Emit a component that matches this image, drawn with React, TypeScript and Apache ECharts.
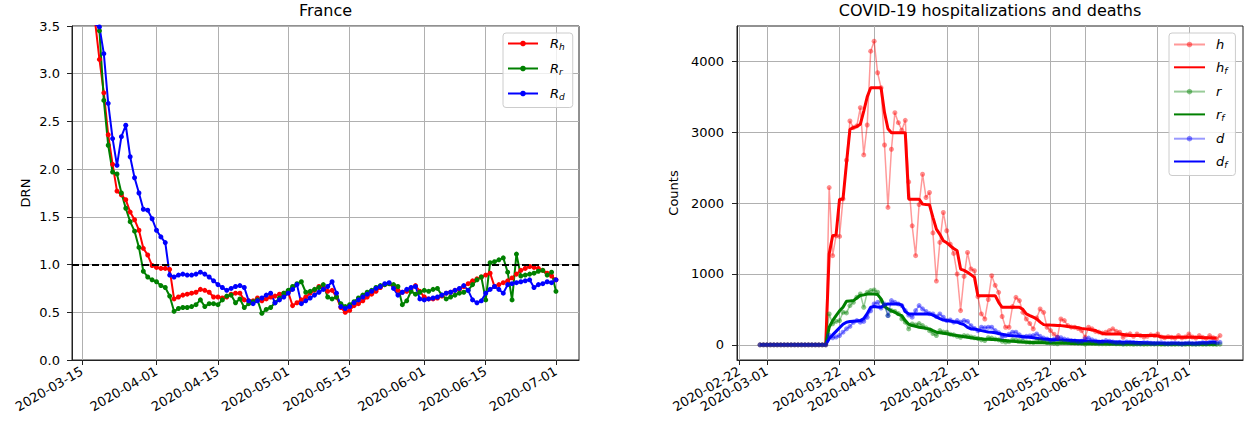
import React, { useEffect, useRef } from "react";
import * as echarts from "echarts";

// ---------- DATA ----------
// Left panel (France DRN), one value per day starting 2020-03-18
const drnStart = "2020-03-18";
const drnThreshold = 1;
const Rh = [
  3.55, 3.15, 2.8, 2.36, 2.05, 1.77, 1.73, 1.68, 1.55, 1.47,
  1.36, 1.17, 1.1, 0.99, 0.97, 0.96, 0.96, 0.95, 0.64, 0.66,
  0.68, 0.69, 0.7, 0.71, 0.74, 0.73, 0.71, 0.66, 0.66, 0.65,
  0.66, 0.69, 0.7, 0.7, 0.63, 0.62, 0.62, 0.65, 0.62, 0.64,
  0.66, 0.67, 0.69, 0.7, 0.71, 0.57, 0.6, 0.63, 0.66, 0.7,
  0.73, 0.77, 0.76, 0.72, 0.73, 0.66, 0.55, 0.5, 0.52, 0.57,
  0.59, 0.62, 0.66, 0.69, 0.72, 0.76, 0.79, 0.8, 0.78, 0.73,
  0.71, 0.72, 0.75, 0.78, 0.72, 0.66, 0.64, 0.64, 0.65, 0.67,
  0.7, 0.71, 0.73, 0.74, 0.77, 0.8, 0.83, 0.85, 0.87, 0.89,
  0.91, 0.77, 0.79, 0.81, 0.83, 0.86, 0.9, 0.94, 0.96, 0.98,
  0.97, 0.96, 0.94, 0.91, 0.88, 0.84,
];
const Rr = [
  3.6, 3.45, 2.72, 2.25, 1.97, 1.95, 1.75, 1.59, 1.45, 1.35,
  1.18, 0.93, 0.87, 0.84, 0.82, 0.78, 0.76, 0.67, 0.51, 0.54,
  0.55, 0.55, 0.56, 0.58, 0.63, 0.56, 0.59, 0.59, 0.58, 0.63,
  0.67, 0.68, 0.6, 0.64, 0.55, 0.59, 0.61, 0.63, 0.49, 0.53,
  0.55, 0.6, 0.65, 0.7, 0.73, 0.77, 0.8, 0.82, 0.71, 0.72,
  0.74, 0.76, 0.79, 0.66, 0.64, 0.66, 0.59, 0.56, 0.58, 0.61,
  0.65, 0.68, 0.71, 0.73, 0.76, 0.78, 0.79, 0.8, 0.79, 0.77,
  0.58, 0.62, 0.72, 0.69, 0.71, 0.73, 0.72, 0.74, 0.75, 0.68,
  0.64, 0.66, 0.68, 0.7, 0.71, 0.73, 0.79, 0.84, 0.87, 0.63,
  1.02, 1.03, 1.05, 1.07, 0.92, 0.63, 1.11, 0.88, 0.89, 0.9,
  0.91, 0.93, 0.94, 0.89, 0.92, 0.72,
];
const Rd = [
  3.52, 3.49, 3.21, 2.69, 2.32, 2.04, 2.34, 2.46, 2.13, 1.91,
  1.75, 1.58, 1.57, 1.48, 1.36, 1.29, 1.23, 0.89, 0.87, 0.89,
  0.9, 0.89, 0.89, 0.9, 0.92, 0.9, 0.87, 0.83, 0.79, 0.76,
  0.73, 0.75, 0.77, 0.78, 0.76, 0.62, 0.59, 0.62, 0.65, 0.68,
  0.7, 0.6, 0.63, 0.66, 0.7, 0.74, 0.79, 0.59, 0.62, 0.65,
  0.68, 0.71, 0.74, 0.77, 0.82, 0.7, 0.56, 0.54, 0.56, 0.6,
  0.63, 0.66, 0.69, 0.72, 0.75, 0.77, 0.8, 0.81, 0.75, 0.68,
  0.71, 0.74, 0.76, 0.77, 0.64, 0.63, 0.64, 0.65, 0.66, 0.68,
  0.7, 0.71, 0.73, 0.75, 0.78, 0.73, 0.63, 0.6, 0.62, 0.7,
  0.74, 0.77, 0.74, 0.7, 0.79, 0.8, 0.81, 0.82, 0.83, 0.84,
  0.76, 0.79, 0.8, 0.82, 0.81, 0.84,
];
const drnTicks = ["2020-03-15", "2020-04-01", "2020-04-15", "2020-05-01", "2020-05-15", "2020-06-01", "2020-06-15", "2020-07-01"];

// Right panel (counts), one value per day starting 2020-02-28
const countStart = "2020-02-28";
const beforeReporting = [0, 0, 0, 0, 0, 0, 0, 0, 0, 0, 0, 0, 0, 0, 0, 0, 0, 0, 0, 0];
const h = [
  ...beforeReporting,
  2220, 1258, 1540, 1530, 2060, 2606, 3159, 3065, 3090, 3347,
  2680, 3103, 4145, 4286, 3840, 3630, 2821, 1939, 2760, 3277,
  3136, 3030, 3169, 2300, 1680, 1258, 1980, 2408, 2080, 2150,
  1580, 900, 1445, 1868, 1610, 1420, 1290, 1000, 483, 965,
  1304, 1070, 1046, 680, 436, 365, 640, 976, 840, 741,
  400, 248, 248, 540, 670, 624, 459, 365, 300, 225,
  380, 506, 459, 248, 200, 150, 107, 365, 342, 271,
  250, 248, 230, 200, 107, 248, 225, 190, 180, 165,
  178, 200, 225, 190, 178, 107, 140, 155, 120, 154,
  130, 110, 120, 140, 130, 154, 110, 100, 115, 105,
  95, 130, 100, 110, 154, 110, 95, 130, 105, 90,
  130, 100, 84, 130,
];
const hf = [
  ...beforeReporting,
  1282, 1540, 1554, 2056, 2056, 2560, 3042, 3065, 3080, 3112,
  3300, 3500, 3629, 3629, 3629, 3629, 3277, 3050, 2995, 2995,
  2995, 2995, 2995, 2056, 2056, 2056, 2056, 1986, 1980, 1976,
  1800, 1634, 1560, 1469, 1440, 1399, 1360, 1328, 1070, 1050,
  1023, 990, 952, 694, 694, 694, 694, 694, 694, 600,
  530, 530, 530, 530, 530, 530, 500, 436, 412, 390,
  365, 320, 285, 280, 278, 275, 272, 271, 265, 258,
  252, 248, 240, 232, 225, 218, 210, 201, 180, 160,
  154, 154, 154, 154, 154, 146, 138, 130, 130, 130,
  130, 130, 130, 130, 130, 125, 115, 108, 107, 107,
  107, 107, 107, 107, 107, 107, 107, 105, 102, 100,
  98, 98, 98, null,
];
const r = [
  ...beforeReporting,
  436, 296, 330, 342, 460, 450, 554, 600, 671, 718,
  530, 741, 765, 775, 742, 620, 554, 413, 483, 470,
  440, 366, 320, 225, 295, 280, 300, 272, 240, 200,
  160, 131, 200, 180, 178, 150, 140, 120, 107, 130,
  125, 110, 100, 90, 70, 60, 100, 95, 80, 70,
  50, 40, 45, 70, 65, 60, 50, 40, 35, 30,
  50, 55, 45, 30, 25, 20, 15, 40, 35, 30,
  28, 25, 22, 20, 10, 25, 22, 18, 15, 14,
  15, 16, 20, 15, 14, 8, 10, 12, 8, 12,
  10, 8, 9, 11, 10, 12, 8, 7, 9, 8,
  7, 10, 8, 8, 12, 8, 7, 10, 8, 7,
  10, 8, 6, 10,
];
const rf = [
  ...beforeReporting,
  248, 342, 413, 480, 530, 615, 620, 624, 660, 695,
  705, 718, 718, 718, 709, 648, 540, 507, 480, 460,
  430, 413, 342, 290, 272, 260, 248, 240, 232, 225,
  200, 178, 170, 162, 155, 147, 138, 131, 125, 115,
  107, 100, 92, 86, 84, 80, 78, 76, 75, 70,
  65, 61, 55, 50, 45, 40, 38, 36, 34, 32,
  30, 29, 28, 27, 26, 25, 24, 23, 22, 21,
  20, 19, 18, 17, 16, 16, 15, 15, 14, 14,
  14, 13, 13, 13, 12, 12, 12, 11, 11, 11,
  11, 10, 10, 10, 10, 10, 9, 9, 9, 9,
  9, 9, 9, 9, 9, 9, 9, 9, 9, 9,
  9, 9, 9, null,
];
const d = [
  ...beforeReporting,
  131, 100, 110, 131, 178, 225, 260, 319, 342, 320,
  330, 389, 480, 577, 600, 520, 577, 413, 624, 600,
  577, 554, 483, 420, 390, 483, 554, 507, 470, 440,
  436, 400, 436, 389, 342, 350, 320, 342, 318, 342,
  330, 270, 230, 200, 248, 240, 248, 248, 200, 170,
  110, 130, 150, 178, 178, 140, 110, 120, 125, 130,
  154, 120, 95, 80, 60, 75, 107, 100, 80, 70,
  60, 55, 45, 50, 84, 95, 70, 55, 40, 45,
  60, 50, 40, 30, 35, 25, 40, 35, 30, 25,
  20, 30, 28, 22, 18, 25, 30, 20, 15, 22,
  25, 18, 12, 20, 25, 18, 15, 20, 30, 22,
  35, 40, 30, 35,
];
const df = [
  ...beforeReporting,
  85, 140, 190, 240, 290, 319, 328, 333, 338, 342,
  370, 440, 530, 540, 535, 530, 560, 577, 577, 577,
  577, 560, 470, 436, 436, 436, 436, 436, 436, 436,
  420, 395, 370, 350, 342, 335, 325, 319, 300, 285,
  245, 225, 225, 210, 200, 190, 180, 178, 170, 160,
  150, 140, 131, 128, 125, 120, 115, 110, 107, 100,
  92, 84, 80, 77, 74, 72, 70, 68, 66, 64,
  62, 60, 58, 56, 54, 52, 51, 50, 48, 47,
  45, 44, 42, 41, 40, 38, 37, 36, 35, 33,
  32, 30, 29, 27, 25, 23, 23, 23, 23, 23,
  23, 23, 23, 23, 23, 23, 24, 26, 28, 30,
  32, 35, 37, null,
];
const countDateTicks = ["2020-02-22", "2020-03-01", "2020-03-22", "2020-04-01", "2020-04-22", "2020-05-01", "2020-05-22", "2020-06-01", "2020-06-22", "2020-07-01"];
const countValueTicks = [0, 1000, 2000, 3000, 4000];

// ---------- HELPERS ----------
const FONT = "DejaVu Sans";
const DAY = 86400000;
const ORIGIN = Date.UTC(2020, 1, 22);
const dayNum = (s: string) => {
  const [y, m, dd] = s.split("-").map(Number);
  return Math.round((Date.UTC(y, m - 1, dd) - ORIGIN) / DAY);
};
const dayLabel = (k: number) => new Date(ORIGIN + Math.round(k) * DAY).toISOString().slice(0, 10);
const toPairs = (start: string, vals: (number | null)[]) => {
  const s = dayNum(start);
  const out: number[][] = [];
  vals.forEach((v, i) => {
    if (v !== null && v !== undefined) out.push([s + i, v]);
  });
  return out;
};
const padRange = (a: number, b: number) => {
  const m = (b - a) * 0.05;
  return [a - m, b + m];
};

const [leftMin, leftMax] = padRange(dayNum(drnStart), dayNum(drnStart) + Rh.length - 1);
const [rightMin, rightMax] = padRange(dayNum(countStart), dayNum(countStart) + h.length - 1);
const countMaxVal = Math.max(...(h as number[]));
const [countMin, countMax] = padRange(0, countMaxVal);

const AXIS_COLOR = "#222";
const GRID_COLOR = "#b0b0b0";
const labelStyle = { fontSize: 13, fontFamily: FONT, color: "#000" };

const richFmt = (name: string) => {
  const [a, b] = name.split("_");
  return b ? `{i|${a}}{s|${b}}` : `{i|${a}}`;
};
const rich = {
  i: { fontFamily: FONT, fontStyle: "italic", fontSize: 13, lineHeight: 16, color: "#000" },
  s: { fontFamily: FONT, fontStyle: "italic", fontSize: 9, lineHeight: 9, verticalAlign: "bottom", color: "#000" },
};

const xAxisBase = (min: number, max: number, ticks: number[], gridIndex: number) => ({
  type: "value",
  gridIndex,
  min,
  max,
  axisLine: { show: true, onZero: false, lineStyle: { color: AXIS_COLOR, width: 1 } },
  axisTick: { show: true, length: 5, customValues: ticks, lineStyle: { color: AXIS_COLOR } },
  axisLabel: { ...labelStyle, customValues: ticks, formatter: (v: number) => dayLabel(v), rotate: 30, margin: 10 },
  splitLine: { show: true, lineStyle: { color: GRID_COLOR, width: 1 } },
});

const leftLine = (name: string, vals: number[], color: string) => ({
  type: "line",
  name,
  xAxisIndex: 0,
  yAxisIndex: 0,
  data: toPairs(drnStart, vals),
  symbol: "circle",
  symbolSize: 5,
  lineStyle: { color, width: 2 },
  itemStyle: { color },
  emphasis: { disabled: true },
});
const lightLine = (name: string, vals: (number | null)[], color: string) => ({
  type: "line",
  name,
  xAxisIndex: 1,
  yAxisIndex: 1,
  data: toPairs(countStart, vals),
  symbol: "circle",
  symbolSize: 5,
  lineStyle: { color, width: 1.5, opacity: 0.4 },
  itemStyle: { color, opacity: 0.45 },
  emphasis: { disabled: true },
});
const boldLine = (name: string, vals: (number | null)[], color: string) => ({
  type: "line",
  name,
  xAxisIndex: 1,
  yAxisIndex: 1,
  data: toPairs(countStart, vals),
  symbol: "none",
  lineStyle: { color, width: 3 },
  itemStyle: { color, opacity: 0 },
  emphasis: { disabled: true },
});

const legendBase = {
  orient: "vertical",
  selectedMode: false,
  backgroundColor: "rgba(255,255,255,0.8)",
  borderColor: "#cccccc",
  borderWidth: 1,
  borderRadius: 3,
  itemHeight: 7,
  formatter: richFmt,
};

const option = {
  animation: false,
  backgroundColor: "#fff",
  textStyle: { fontFamily: FONT },
  grid: [
    { left: 72, top: 26, width: 507, height: 334, show: true, borderColor: AXIS_COLOR, borderWidth: 1, backgroundColor: "transparent", containLabel: false },
    { left: 737, top: 26, width: 506, height: 334, show: true, borderColor: AXIS_COLOR, borderWidth: 1, backgroundColor: "transparent", containLabel: false },
  ],
  graphic: [
    { type: "text", x: 325.5, y: 10, style: { text: "France", fontSize: 16, fontFamily: FONT, fill: "#000", align: "center", verticalAlign: "middle" } },
    { type: "text", x: 990, y: 10, style: { text: "COVID-19 hospitalizations and deaths", fontSize: 16, fontFamily: FONT, fill: "#000", align: "center", verticalAlign: "middle" } },
  ],
  legend: [
    {
      ...legendBase,
      left: 503,
      top: 33,
      itemWidth: 30,
      itemGap: 10.5,
      padding: [4, 8, 6, 4],
      data: ["R_h", "R_r", "R_d"],
      textStyle: { padding: [0, 0, 0, 7], rich },
    },
    {
      ...legendBase,
      left: 1169,
      top: 33,
      itemWidth: 31,
      itemGap: 9.8,
      padding: [5, 8, 6, 4],
      data: ["h", "h_f", "r", "r_f", "d", "d_f"],
      textStyle: { padding: [0, 0, 0, 6], rich },
    },
  ],
  xAxis: [
    xAxisBase(leftMin, leftMax, drnTicks.map(dayNum), 0),
    xAxisBase(rightMin, rightMax, countDateTicks.map(dayNum), 1),
  ],
  yAxis: [
    {
      type: "value",
      gridIndex: 0,
      min: 0,
      max: 3.5,
      interval: 0.5,
      name: "DRN",
      nameLocation: "middle",
      nameGap: 40,
      nameTextStyle: labelStyle,
      axisLine: { show: true, lineStyle: { color: AXIS_COLOR, width: 1 } },
      axisTick: { show: true, length: 5, lineStyle: { color: AXIS_COLOR } },
      axisLabel: { ...labelStyle, margin: 12, formatter: (v: number) => v.toFixed(1) },
      splitLine: { show: true, lineStyle: { color: GRID_COLOR, width: 1 } },
    },
    {
      type: "value",
      gridIndex: 1,
      min: countMin,
      max: countMax,
      name: "Counts",
      nameLocation: "middle",
      nameGap: 57,
      nameTextStyle: labelStyle,
      axisLine: { show: true, onZero: false, lineStyle: { color: AXIS_COLOR, width: 1 } },
      axisTick: { show: true, length: 5, customValues: countValueTicks, lineStyle: { color: AXIS_COLOR } },
      axisLabel: { ...labelStyle, margin: 13, customValues: countValueTicks, formatter: (v: number) => String(Math.round(v)) },
      splitLine: { show: true, lineStyle: { color: GRID_COLOR, width: 1 } },
    },
  ],
  series: [
    leftLine("R_h", Rh, "#ff0000"),
    leftLine("R_r", Rr, "#008000"),
    {
      ...leftLine("R_d", Rd, "#0000ff"),
      markLine: {
        silent: true,
        symbol: "none",
        label: { show: false },
        lineStyle: { color: "#000", type: [7, 3], width: 2 },
        data: [{ yAxis: drnThreshold }],
      },
    },
    lightLine("h", h, "#ff0000"),
    boldLine("h_f", hf, "#ff0000"),
    lightLine("r", r, "#008000"),
    boldLine("r_f", rf, "#008000"),
    lightLine("d", d, "#0000ff"),
    boldLine("d_f", df, "#0000ff"),
  ],
};

export default function App() {
  const ref = useRef<HTMLDivElement>(null);
  useEffect(() => {
    document.body.style.margin = "0";
    const chart = echarts.init(ref.current!, null, { renderer: "svg", width: 1245, height: 430 });
    chart.setOption(option as any);
    return () => chart.dispose();
  }, []);
  return <div ref={ref} style={{ width: 1245, height: 430, background: "#fff" }} />;
}
